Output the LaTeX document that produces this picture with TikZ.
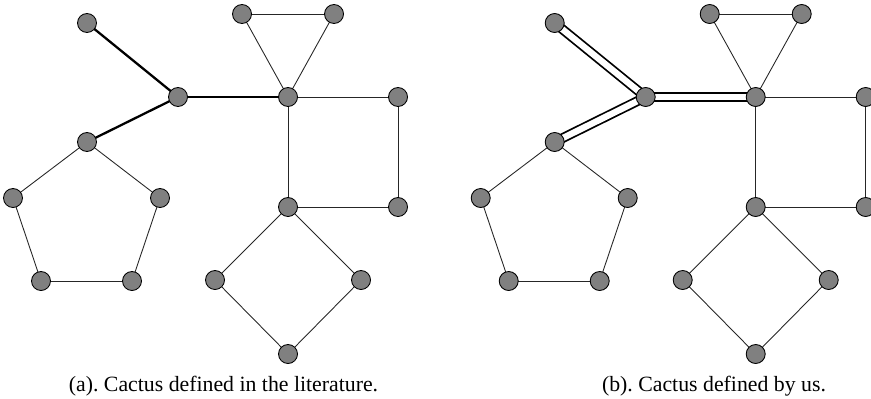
\documentclass[tikz,border=0pt]{standalone}
\usepackage{fontspec}
\setmainfont{Liberation Serif}
\usetikzlibrary{backgrounds}
\frenchspacing

\begin{document}
\begin{tikzpicture}[
  vert/.style={circle, draw=black, line width=0.5pt, fill=black!50, minimum size=0.38cm, inner sep=0pt},
  arista/.style={draw=black!85, line width=0.5pt},
  puente/.style={draw=black, line width=1.3pt},
  puentedoble/.style={draw=black, line width=1pt, double=white, double distance=3.6pt},
  leyenda/.style={font=\fontsize{12.4}{14}\selectfont, anchor=base}]
  \useasboundingbox (0,0) rectangle (17.42,7.96);
  % vertices de los dos cactus (a a la izquierda, b desplazado)
  \foreach \g/\dx in {a/0,b/9.354}{
    \begin{scope}[xshift=\dx cm]
      \foreach \n/\x/\y in {A/1.74/7.50, B/3.56/6.02, C/5.76/6.02,
                            T1/4.84/7.68, T2/6.68/7.68,
                            S2/7.96/6.02, S3/7.96/3.82, D0/5.76/3.82,
                            DL/4.30/2.36, DR/7.22/2.36, DB/5.76/0.88,
                            P0/1.74/5.12, P1/3.20/4.00, P2/2.64/2.34,
                            P3/0.82/2.34, P4/0.26/4.00}
        \node[vert] (\g\n) at (\x,\y) {};
    \end{scope}
  }
  \begin{pgfonlayer}{background}
    % ciclos: triangulo, cuadrado, rombo, pentagono
    \foreach \g in {a,b}{
      \foreach \u/\v in {C/T1, T1/T2, T2/C, C/S2, S2/S3, S3/D0, D0/C,
                         D0/DR, DR/DB, DB/DL, DL/D0,
                         P0/P1, P1/P2, P2/P3, P3/P4, P4/P0}
        \draw[arista] (\g\u.center)--(\g\v.center);
    }
    % puentes
    \foreach \u/\v in {A/B, B/C, B/P0}{
      \draw[puente] (a\u.center)--(a\v.center);
      \draw[puentedoble] (b\u.center)--(b\v.center);
    }
  \end{pgfonlayer}
  % leyendas
  \node[leyenda] (capa) at (4.47,0.14) {(a). Cactus defined in the literature.};
  \node[leyenda] (capb) at (14.28,0.14) {(b). Cactus defined by us.};
\end{tikzpicture}
\end{document}
